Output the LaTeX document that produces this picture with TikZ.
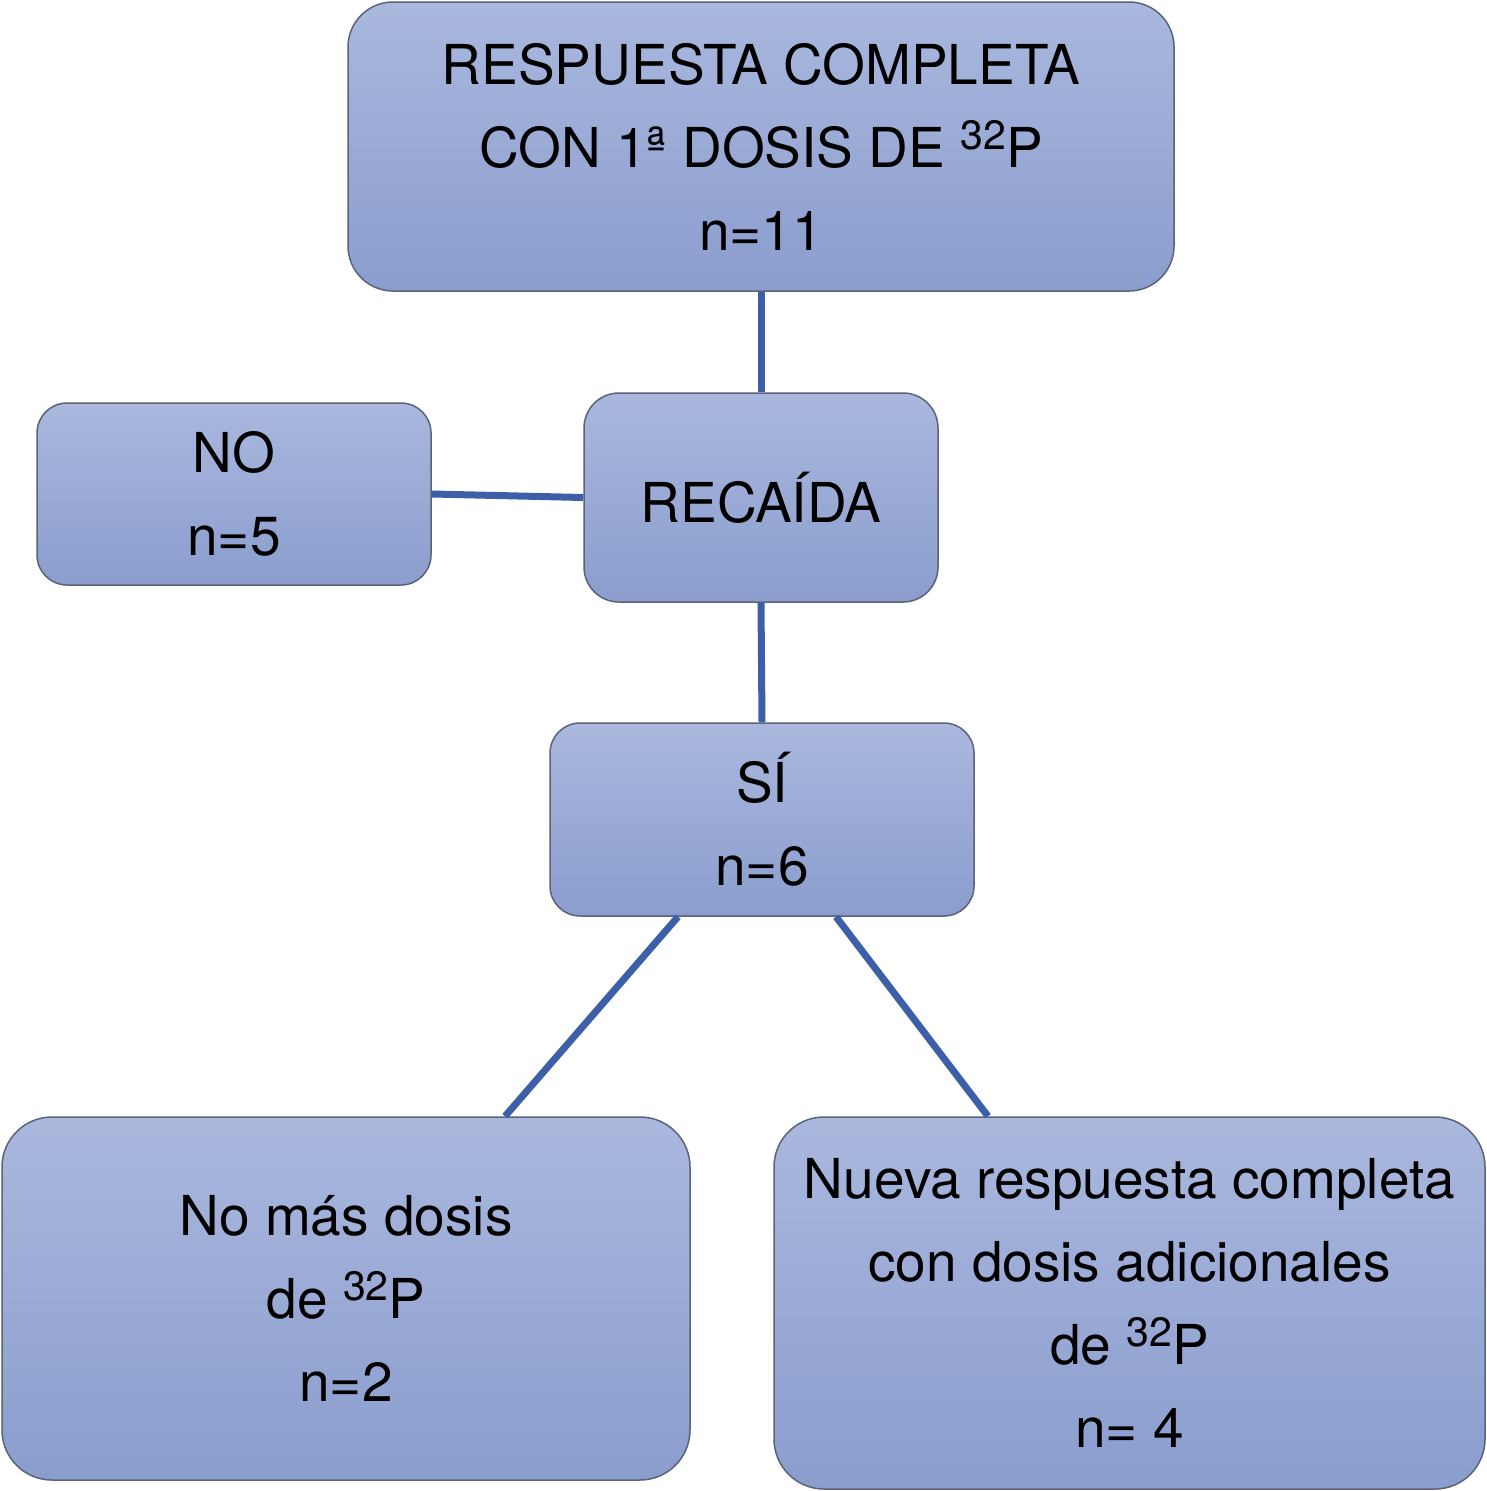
\documentclass[tikz,border=0pt]{standalone}
\usepackage{fontspec}
\setmainfont{TeX Gyre Heros}
\definecolor{boxtop}{HTML}{AAB8DE}
\definecolor{boxbot}{HTML}{8A9DCD}
\definecolor{boxedge}{HTML}{5A6378}
\definecolor{conn}{HTML}{3D5FA8}
\newcommand{\isotope}{\raisebox{18pt}{\fontsize{41}{41}\selectfont 32}P}
\begin{document}
\begin{tikzpicture}[x=1pt,y=-1pt,
  box/.style={draw=boxedge, line width=1.5pt, top color=boxtop, bottom color=boxbot,
    align=center, inner sep=0pt, font=\fontsize{55}{83}\selectfont},
  link/.style={draw=conn, line width=7pt}]
\useasboundingbox (0,0) rectangle (1487,1491);
\node[box, rounded corners=45pt, minimum width=826pt, minimum height=289pt] (top) at (761,146.5)
  {RESPUESTA COMPLETA\\CON 1ª DOSIS DE \isotope\\n=11};
\node[box, rounded corners=30pt, minimum width=394pt, minimum height=182pt] (no) at (234,494)
  {NO\\n=5};
\node[box, rounded corners=35pt, minimum width=354pt, minimum height=209pt] (rec) at (761,497.5)
  {RECAÍDA};
\node[box, rounded corners=30pt, minimum width=424pt, minimum height=193pt] (si) at (762,819.5)
  {SÍ\\n=6};
\node[box, rounded corners=50pt, minimum width=688pt, minimum height=363pt] (nomas) at (346,1298.5)
  {No más dosis\\de \isotope\\n=2};
\node[box, rounded corners=50pt, minimum width=711pt, minimum height=372pt] (nueva) at (1129.5,1303)
  {Nueva respuesta completa\\con dosis adicionales\\de \isotope\\n= 4};
\draw[link] (top.south) -- (rec.north);
\draw[link] (no.east) -- (rec.west);
\draw[link] (rec.south) -- (si.north);
\draw[link] ([xshift=-84pt]si.south) -- ([xshift=159pt]nomas.north);
\draw[link] ([xshift=74pt]si.south) -- ([xshift=-141.5pt]nueva.north);
\end{tikzpicture}
\end{document}
